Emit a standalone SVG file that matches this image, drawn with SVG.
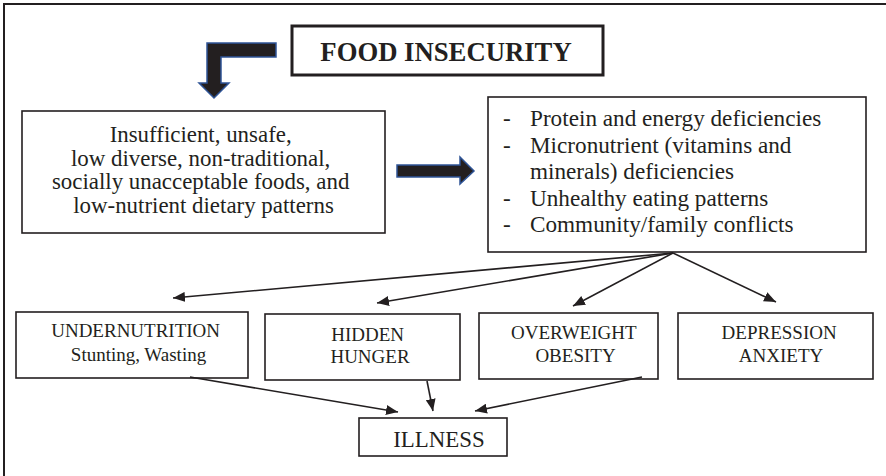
<svg xmlns="http://www.w3.org/2000/svg" width="886" height="476" viewBox="0 0 886 476">
  <style>
    text { font-family: "Liberation Serif", "Times New Roman", serif; fill: #231f20; }
    .box { fill: #ffffff; stroke: #231f20; stroke-width: 1.6; }
    .title { font-weight: bold; font-size: 26.7px; }
    .body { font-size: 22.9px; }
    .list { font-size: 23.2px; }
    .small { font-size: 19px; }
    .block { fill: #231f20; stroke: #2f5496; stroke-width: 1.5; stroke-linejoin: miter; }
    .link { fill: none; stroke: #231f20; stroke-width: 1.6; }
  </style>
  <defs>
    <marker id="tip" viewBox="0 0 12 10" refX="12" refY="5" markerWidth="12" markerHeight="10" markerUnits="userSpaceOnUse" orient="auto">
      <path d="M0,0 L12,5 L0,10 Z" fill="#231f20"/>
    </marker>
  </defs>

  <!-- page frame (only top and left edges fall inside the canvas) -->
  <rect x="4" y="4" width="900" height="500" fill="#ffffff" stroke="#231f20" stroke-width="2"/>

  <!-- block arrows -->
  <g id="bent-arrow">
    <path class="block" d="M276,43 L207,43 L207,83 L199,83 L214,98 L229,83 L221,83 L221,57 L276,57 Z"/>
  </g>
  <g id="right-arrow">
    <path class="block" d="M397,165 L460,165 L460,157 L474,171 L460,184 L460,177 L397,177 Z"/>
  </g>

  <g id="food-insecurity">
    <rect x="292" y="26" width="311" height="49" fill="#ffffff" stroke="#231f20" stroke-width="3"/>
    <text class="title" x="446" y="61" text-anchor="middle">FOOD INSECURITY</text>
  </g>

  <g id="foods">
    <rect class="box" x="22" y="111" width="363" height="122"/>
    <text class="body" text-anchor="middle">
      <tspan x="203.5" y="142">Insufficient, unsafe,</tspan>
      <tspan x="203.5" y="165.5">low diverse, non-traditional,</tspan>
      <tspan x="203.5" y="189">socially unacceptable foods, and</tspan>
      <tspan x="203.5" y="212.5">low-nutrient dietary patterns</tspan>
    </text>
  </g>

  <g id="deficiencies">
    <rect class="box" x="488" y="97" width="378" height="155"/>
    <text class="list">
      <tspan x="503" y="126">-</tspan><tspan x="530" y="126">Protein and energy deficiencies</tspan>
      <tspan x="503" y="153">-</tspan><tspan x="530" y="153">Micronutrient (vitamins and</tspan>
      <tspan x="530" y="179">minerals) deficiencies</tspan>
      <tspan x="503" y="206">-</tspan><tspan x="530" y="206">Unhealthy eating patterns</tspan>
      <tspan x="503" y="232">-</tspan><tspan x="530" y="232">Community/family conflicts</tspan>
    </text>
  </g>

  <g id="undernutrition">
    <rect class="box" x="16" y="312" width="232" height="66"/>
    <text class="small" text-anchor="middle">
      <tspan x="138" y="337">UNDERNUTRITION</tspan>
      <tspan x="138.5" y="361">Stunting, Wasting</tspan>
    </text>
  </g>

  <g id="hidden-hunger">
    <rect class="box" x="265" y="314" width="195" height="66"/>
    <text class="small" text-anchor="middle">
      <tspan x="370" y="341">HIDDEN</tspan>
      <tspan x="370" y="363">HUNGER</tspan>
    </text>
  </g>

  <g id="overweight">
    <rect class="box" x="479" y="313" width="179" height="66"/>
    <text class="small" text-anchor="middle">
      <tspan x="576" y="339">OVERWEIGHT</tspan>
      <tspan x="575.5" y="362">OBESITY</tspan>
    </text>
  </g>

  <g id="depression">
    <rect class="box" x="678" y="313" width="195" height="66"/>
    <text class="small" text-anchor="middle">
      <tspan x="781.5" y="339">DEPRESSION</tspan>
      <tspan x="781" y="362">ANXIETY</tspan>
    </text>
  </g>

  <g id="illness">
    <rect class="box" x="359" y="418" width="148" height="38"/>
    <text class="body" x="439" y="447" text-anchor="middle">ILLNESS</text>
  </g>

  <g id="connectors">
    <line class="link" x1="673" y1="253" x2="173" y2="298" marker-end="url(#tip)"/>
    <line class="link" x1="673" y1="253" x2="377" y2="303" marker-end="url(#tip)"/>
    <line class="link" x1="673" y1="253" x2="573" y2="306" marker-end="url(#tip)"/>
    <line class="link" x1="673" y1="253" x2="776" y2="302" marker-end="url(#tip)"/>
    <line class="link" x1="190" y1="377" x2="398" y2="412" marker-end="url(#tip)"/>
    <line class="link" x1="427" y1="381" x2="433" y2="411" marker-end="url(#tip)"/>
    <line class="link" x1="642" y1="377" x2="475" y2="411" marker-end="url(#tip)"/>
  </g>
</svg>
